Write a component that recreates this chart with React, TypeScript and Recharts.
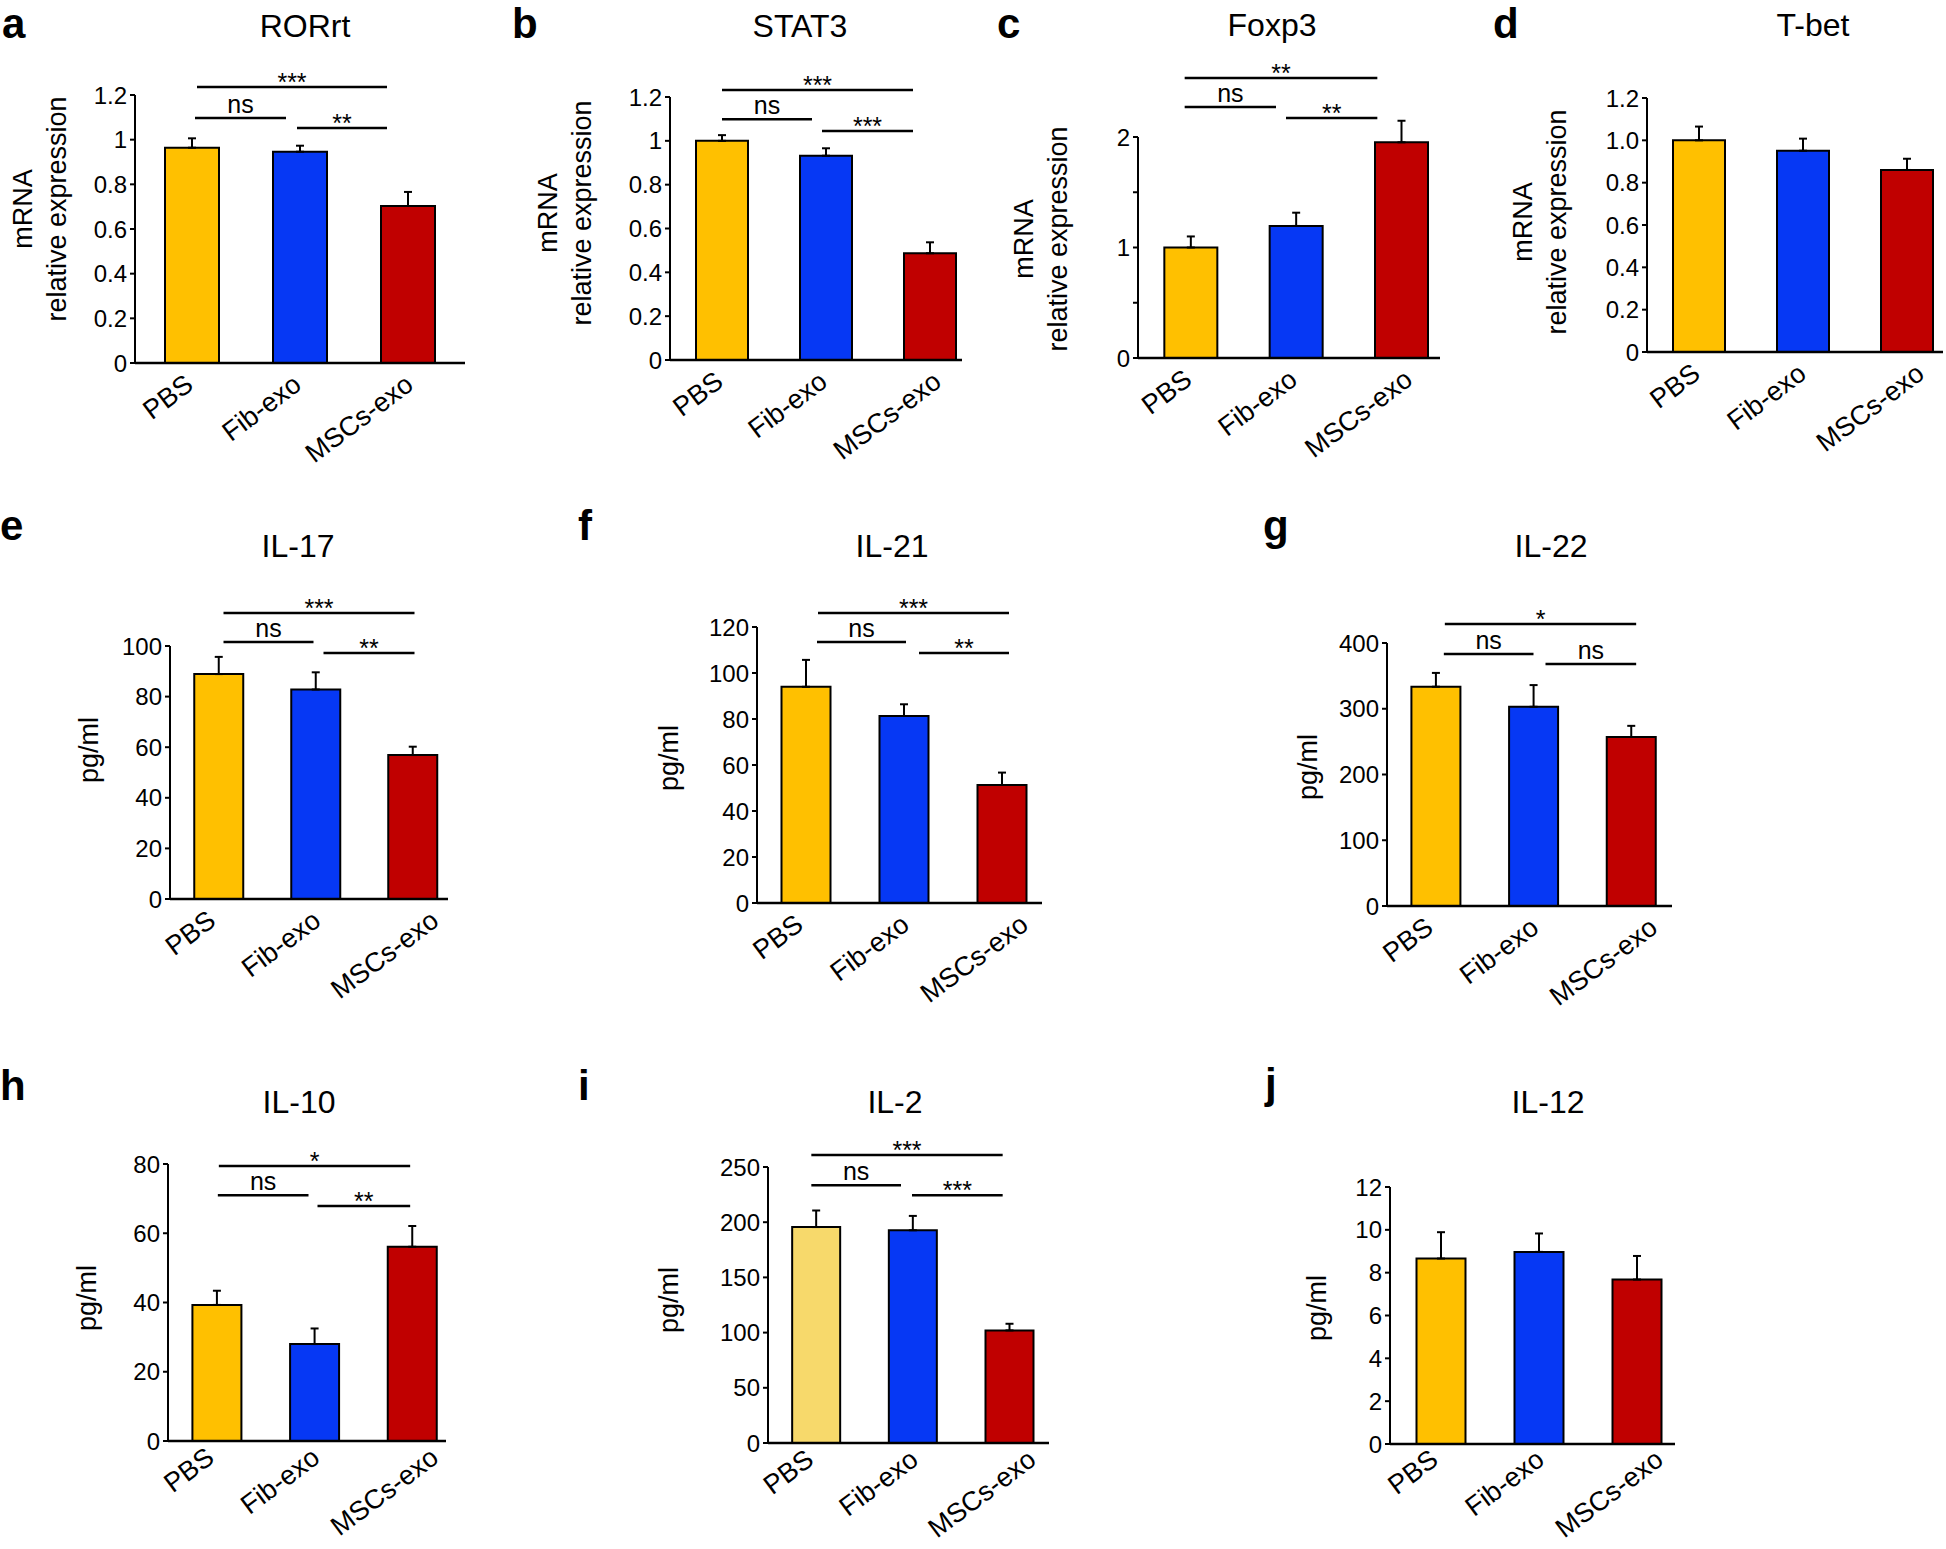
import React from 'react';
import { BarChart, Bar, XAxis, YAxis, Cell, ErrorBar, ReferenceLine } from 'recharts';

const FONT = "'Liberation Sans', Arial, Helvetica, sans-serif";

// groups shared by every panel
const groups = ['PBS', 'Fib-exo', 'MSCs-exo'];

// mRNA relative expression
const rorrtMean = [0.964, 0.946, 0.703];
const rorrtErr = [0.042, 0.027, 0.063];
const stat3Mean = [1.0, 0.932, 0.487];
const stat3Err = [0.026, 0.034, 0.05];
const foxp3Mean = [1.0, 1.195, 1.952];
const foxp3Err = [0.1, 0.12, 0.195];
const tbetMean = [1.0, 0.951, 0.86];
const tbetErr = [0.065, 0.057, 0.053];

// cytokines, pg/ml
const il17Mean = [88.9, 82.8, 56.9];
const il17Err = [6.8, 6.8, 3.3];
const il21Mean = [94.0, 81.3, 51.3];
const il21Err = [11.7, 5.1, 5.4];
const il22Mean = [333.5, 303, 257];
const il22Err = [21, 33, 17];
const il10Mean = [39.3, 28.0, 56.1];
const il10Err = [4.1, 4.5, 6.0];
const il2Mean = [195.6, 192.7, 102];
const il2Err = [15, 13, 6];
const il12Mean = [8.66, 8.97, 7.68];
const il12Err = [1.23, 0.86, 1.1];

// tick values
const mrnaTicks = [0, 0.2, 0.4, 0.6, 0.8, 1, 1.2];
const foxp3Ticks = [0, 0.5, 1, 1.5, 2];
const il17Ticks = [0, 20, 40, 60, 80, 100];
const il21Ticks = [0, 20, 40, 60, 80, 100, 120];
const il22Ticks = [0, 100, 200, 300, 400];
const il10Ticks = [0, 20, 40, 60, 80];
const il2Ticks = [0, 50, 100, 150, 200, 250];
const il12Ticks = [0, 2, 4, 6, 8, 10, 12];

const colors = ['#FFC000', '#0638F4', '#C00000'];
const il2Colors = ['#F7D96B', '#0638F4', '#C00000'];

type Bracket = { from: number; to: number; y: number; label: string; d1: number; d2: number };

// significance brackets (y in data units, d1/d2 = end trims in px)
const rorrtSig: Bracket[] = [
  { from: 0, to: 2, y: 1.236, label: '***', d1: 5, d2: -21 },
  { from: 0, to: 1, y: 1.097, label: 'ns', d1: 3, d2: -14 },
  { from: 1, to: 2, y: 1.052, label: '**', d1: -3, d2: -21 },
];
const stat3Sig: Bracket[] = [
  { from: 0, to: 2, y: 1.232, label: '***', d1: 0, d2: -17 },
  { from: 0, to: 1, y: 1.099, label: 'ns', d1: 0, d2: -14 },
  { from: 1, to: 2, y: 1.045, label: '***', d1: -4, d2: -17 },
];
const foxp3Sig: Bracket[] = [
  { from: 0, to: 2, y: 2.534, label: '**', d1: -6, d2: -24 },
  { from: 0, to: 1, y: 2.271, label: 'ns', d1: -6, d2: -20 },
  { from: 1, to: 2, y: 2.172, label: '**', d1: -10, d2: -24 },
];
const il17Sig: Bracket[] = [
  { from: 0, to: 2, y: 113.0, label: '***', d1: 5, d2: 2 },
  { from: 0, to: 1, y: 101.6, label: 'ns', d1: 5, d2: -2 },
  { from: 1, to: 2, y: 97.2, label: '**', d1: 8, d2: 2 },
];
const il21Sig: Bracket[] = [
  { from: 0, to: 2, y: 126.1, label: '***', d1: 12, d2: 7 },
  { from: 0, to: 1, y: 113.5, label: 'ns', d1: 11, d2: 2 },
  { from: 1, to: 2, y: 108.7, label: '**', d1: 15, d2: 7 },
];
const il22Sig: Bracket[] = [
  { from: 0, to: 2, y: 428.9, label: '*', d1: 9, d2: 5 },
  { from: 0, to: 1, y: 383.3, label: 'ns', d1: 8, d2: 0 },
  { from: 1, to: 2, y: 368.1, label: 'ns', d1: 12, d2: 5 },
];
const il10Sig: Bracket[] = [
  { from: 0, to: 2, y: 79.4, label: '*', d1: 2, d2: -2 },
  { from: 0, to: 1, y: 71.0, label: 'ns', d1: 1, d2: -6 },
  { from: 1, to: 2, y: 67.9, label: '**', d1: 3, d2: -2 },
];
const il2Sig: Bracket[] = [
  { from: 0, to: 2, y: 260.9, label: '***', d1: -5, d2: -7 },
  { from: 0, to: 1, y: 233.4, label: 'ns', d1: -5, d2: -12 },
  { from: 1, to: 2, y: 224.4, label: '***', d1: -1, d2: -7 },
];

const plain = (v: number) => String(v);
const oneDec = (v: number) => (v === 0 ? '0' : v.toFixed(1));
const intOnly = (v: number) => (Number.isInteger(v) ? String(v) : '');

// x label nudges (px) for the top row and for the two cytokine rows
const topShift = [0, 0, 10];
const lowShift = [-4, 4, 25];

// layout: y-axis x, top tick y, x-axis end, zero y, band padding
const panels = [
  { letter: 'a', lp: [2, 38], title: 'RORrt', tp: [305, 37], ylab: ['mRNA', 'relative expression'], yp: [40, 209],
    mean: rorrtMean, err: rorrtErr, ticks: mrnaTicks, fmt: plain, sig: rorrtSig, colors, lx: [0, 0, 4], ly: 23, xh: 150,
    box: { x0: 135, top: 95, x1: 465, zero: 363, pl: 3, pr: 3 } },
  { letter: 'b', lp: [512, 38], title: 'STAT3', tp: [800, 37], ylab: ['mRNA', 'relative expression'], yp: [565, 213],
    mean: stat3Mean, err: stat3Err, ticks: mrnaTicks, fmt: plain, sig: stat3Sig, colors, lx: topShift, ly: 23, xh: 150,
    box: { x0: 670, top: 97, x1: 962, zero: 360, pl: 0, pr: -20 } },
  { letter: 'c', lp: [997, 38], title: 'Foxp3', tp: [1272, 36], ylab: ['mRNA', 'relative expression'], yp: [1041, 239],
    mean: foxp3Mean, err: foxp3Err, ticks: foxp3Ticks, fmt: intOnly, sig: foxp3Sig, colors, lx: topShift, ly: 23, xh: 150,
    box: { x0: 1138, top: 137, x1: 1440, zero: 358, pl: 0, pr: -14 } },
  { letter: 'd', lp: [1493, 38], title: 'T-bet', tp: [1813, 36], ylab: ['mRNA', 'relative expression'], yp: [1540, 222],
    mean: tbetMean, err: tbetErr, ticks: mrnaTicks, fmt: oneDec, sig: [] as Bracket[], colors, lx: [0, 2, 16], ly: 23, xh: 150,
    box: { x0: 1647, top: 98, x1: 1943, zero: 352, pl: 0, pr: -16 } },
  { letter: 'e', lp: [0, 540], title: 'IL-17', tp: [298, 557], ylab: ['pg/ml'], yp: [89, 750],
    mean: il17Mean, err: il17Err, ticks: il17Ticks, fmt: plain, sig: il17Sig, colors, lx: lowShift, ly: 23, xh: 150,
    box: { x0: 170, top: 646, x1: 448, zero: 899, pl: 0, pr: -13 } },
  { letter: 'f', lp: [578, 540], title: 'IL-21', tp: [892, 557], ylab: ['pg/ml'], yp: [669, 758],
    mean: il21Mean, err: il21Err, ticks: il21Ticks, fmt: plain, sig: il21Sig, colors, lx: lowShift, ly: 23, xh: 150,
    box: { x0: 757, top: 627, x1: 1042, zero: 903, pl: 0, pr: -9 } },
  { letter: 'g', lp: [1263, 540], title: 'IL-22', tp: [1551, 557], ylab: ['pg/ml'], yp: [1308, 767],
    mean: il22Mean, err: il22Err, ticks: il22Ticks, fmt: plain, sig: il22Sig, colors, lx: lowShift, ly: 23, xh: 150,
    box: { x0: 1387, top: 643, x1: 1672, zero: 906, pl: 0, pr: -8 } },
  { letter: 'h', lp: [0, 1100], title: 'IL-10', tp: [299, 1113], ylab: ['pg/ml'], yp: [87, 1298],
    mean: il10Mean, err: il10Err, ticks: il10Ticks, fmt: plain, sig: il10Sig, colors, lx: lowShift, ly: 18, xh: 106,
    box: { x0: 168, top: 1164, x1: 446, zero: 1441, pl: 0, pr: -15 } },
  { letter: 'i', lp: [578, 1100], title: 'IL-2', tp: [895, 1113], ylab: ['pg/ml'], yp: [669, 1300],
    mean: il2Mean, err: il2Err, ticks: il2Ticks, fmt: plain, sig: il2Sig, colors: il2Colors, lx: lowShift, ly: 18, xh: 106,
    box: { x0: 768, top: 1167, x1: 1049, zero: 1443, pl: 0, pr: -9 } },
  { letter: 'j', lp: [1265, 1098], title: 'IL-12', tp: [1548, 1113], ylab: ['pg/ml'], yp: [1317, 1308],
    mean: il12Mean, err: il12Err, ticks: il12Ticks, fmt: plain, sig: [] as Bracket[], colors, lx: lowShift, ly: 17, xh: 105,
    box: { x0: 1390, top: 1187, x1: 1675, zero: 1444, pl: 2, pr: -11 } },
];

const YW = 130;
const MT = 110;
const MR = 10;

const XTick = (props: any) => {
  const { x, y, payload, index, shift, lift } = props;
  const dx = shift ? shift[index] ?? 0 : 0;
  return (
    <g transform={`translate(${x + 3 + dx},${y + lift})`}>
      <text x={0} y={0} textAnchor="end" transform="rotate(-37)" fontSize={27} fill="#000">
        {payload.value}
      </text>
    </g>
  );
};

const bracketShape = (b: Bracket) => (p: any) => {
  const xa = p.x1 + b.d1;
  const xb = p.x2 + b.d2;
  const yy = p.y1;
  return (
    <g>
      <line x1={xa} y1={yy} x2={xb} y2={yy} stroke="#000" strokeWidth={2.5} />
      <text x={(xa + xb) / 2} y={b.label === 'ns' ? yy - 5 : yy + 4} textAnchor="middle" fontSize={25} fill="#000">
        {b.label}
      </text>
    </g>
  );
};

const Panel = ({ p }: { p: (typeof panels)[number] }) => {
  const { box } = p;
  const data = groups.map((g, i) => ({ name: g, value: p.mean[i], err: [0, p.err[i]] }));
  const width = YW + (box.x1 - box.x0) + MR;
  const height = MT + (box.zero - box.top) + p.xh;
  const maxY = p.ticks[p.ticks.length - 1];
  return (
    <div style={{ position: 'absolute', left: box.x0 - YW, top: box.top - MT }}>
      <BarChart width={width} height={height} data={data} margin={{ top: MT, right: MR, left: 0, bottom: 0 }} barCategoryGap="25%">
        <XAxis
          dataKey="name"
          interval={0}
          tick={<XTick shift={p.lx} lift={p.ly} />}
          tickLine={false}
          tickSize={0}
          axisLine={{ stroke: '#000', strokeWidth: 2.5 }}
          padding={{ left: box.pl, right: box.pr }}
          height={p.xh}
        />
        <YAxis
          domain={[0, maxY]}
          ticks={p.ticks}
          interval={0}
          tickFormatter={p.fmt}
          width={YW}
          allowDataOverflow
          tick={{ fontSize: 24, fill: '#000' }}
          tickLine={{ stroke: '#000', strokeWidth: 2 }}
          tickSize={5}
          tickMargin={3}
          axisLine={{ stroke: '#000', strokeWidth: 2 }}
        />
        <Bar dataKey="value" isAnimationActive={false} stroke="#000" strokeWidth={2}>
          {data.map((d, i) => (
            <Cell key={d.name} fill={p.colors[i]} stroke="#000" strokeWidth={2} />
          ))}
          <ErrorBar dataKey="err" direction="y" width={4} stroke="#000" strokeWidth={2} isAnimationActive={false} />
        </Bar>
        {p.sig.map((b, i) => (
          <ReferenceLine
            key={i}
            segment={[{ x: groups[b.from], y: b.y }, { x: groups[b.to], y: b.y }]}
            ifOverflow="visible"
            shape={bracketShape(b)}
          />
        ))}
      </BarChart>
    </div>
  );
};

const App: React.FC = () => {
  return (
    <div
      style={{
        position: 'absolute',
        left: 0,
        top: 0,
        width: 1946,
        height: 1549,
        overflow: 'hidden',
        background: '#fff',
        fontFamily: FONT,
      }}
    >
      {panels.map((p) => (
        <Panel key={p.letter} p={p} />
      ))}
      <svg width={1946} height={1549} style={{ position: 'absolute', left: 0, top: 0, pointerEvents: 'none' }}>
        {panels.map((p) => (
          <g key={p.letter}>
            <text x={p.lp[0]} y={p.lp[1]} fontSize={42} fontWeight="bold" fill="#000">
              {p.letter}
            </text>
            <text x={p.tp[0]} y={p.tp[1]} fontSize={32} textAnchor="middle" fill="#000">
              {p.title}
            </text>
            {p.ylab.map((t, k) => {
              const cx = p.yp[0] + (p.ylab.length === 2 ? (k === 0 ? -17 : 17) : 0);
              const cy = p.yp[1];
              return (
                <text
                  key={t}
                  x={cx}
                  y={cy}
                  fontSize={27}
                  textAnchor="middle"
                  dominantBaseline="central"
                  transform={`rotate(-90 ${cx} ${cy})`}
                  fill="#000"
                >
                  {t}
                </text>
              );
            })}
          </g>
        ))}
      </svg>
    </div>
  );
};

export default App;
